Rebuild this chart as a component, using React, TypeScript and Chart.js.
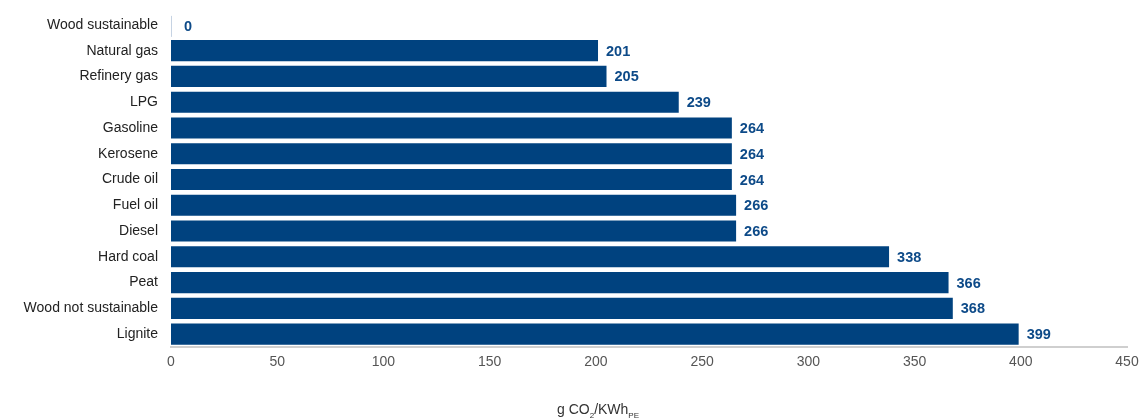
import React, { useEffect, useRef } from "react";
import { Chart, registerables } from "chart.js";

Chart.register(...registerables);

const categories = [
  "Wood sustainable",
  "Natural gas",
  "Refinery gas",
  "LPG",
  "Gasoline",
  "Kerosene",
  "Crude oil",
  "Fuel oil",
  "Diesel",
  "Hard coal",
  "Peat",
  "Wood not sustainable",
  "Lignite",
];
const values = [0, 201, 205, 239, 264, 264, 264, 266, 266, 338, 366, 368, 399];
const xTicks = [0, 50, 100, 150, 200, 250, 300, 350, 400, 450];

const BAR = "#00427f";
const LABEL = "#0d4a88";
const FONT = "'Liberation Sans', Arial, Helvetica, sans-serif";

const valueLabels = {
  id: "valueLabels",
  afterDatasetsDraw(chart: any) {
    const ctx = chart.ctx;
    const meta = chart.getDatasetMeta(0);
    ctx.save();
    ctx.font = `bold 14.5px ${FONT}`;
    ctx.fillStyle = LABEL;
    ctx.textAlign = "left";
    ctx.textBaseline = "middle";
    meta.data.forEach((bar: any, i: number) => {
      const v = values[i];
      if (v === 0) {
        ctx.save();
        ctx.strokeStyle = "#c6d3e3";
        ctx.lineWidth = 1;
        ctx.beginPath();
        ctx.moveTo(bar.x + 0.5, bar.y - 9);
        ctx.lineTo(bar.x + 0.5, bar.y + 12);
        ctx.stroke();
        ctx.restore();
        ctx.fillText(String(v), bar.x + 13, bar.y + 2);
      } else {
        ctx.fillText(String(v), bar.x + 8, bar.y + 1);
      }
    });
    ctx.restore();
  },
};

const axisTitle = {
  id: "axisTitle",
  afterDraw(chart: any) {
    const ctx = chart.ctx;
    ctx.save();
    ctx.fillStyle = "#333";
    ctx.textBaseline = "alphabetic";
    ctx.textAlign = "left";
    let x = 557;
    const y = 414;
    const parts: [string, boolean][] = [
      ["g CO", false],
      ["2", true],
      ["/KWh", false],
      ["PE", true],
    ];
    parts.forEach(([t, sub]) => {
      ctx.font = sub ? `8px ${FONT}` : `14px ${FONT}`;
      ctx.fillText(t, x, sub ? y + 4 : y);
      x += ctx.measureText(t).width;
    });
    ctx.restore();
  },
};

export default function App() {
  const ref = useRef<HTMLCanvasElement>(null);
  useEffect(() => {
    if (!ref.current) return;
    const chart = new Chart(ref.current, {
      type: "bar",
      data: {
        labels: categories,
        datasets: [
          {
            data: values,
            backgroundColor: BAR,
            borderWidth: 0,
            barPercentage: 0.82,
            categoryPercentage: 1,
          },
        ],
      },
      options: {
        indexAxis: "y",
        animation: false,
        responsive: false,
        maintainAspectRatio: false,
        layout: { padding: { top: 12, right: 21, left: 0, bottom: 0 } },
        plugins: {
          legend: { display: false },
          tooltip: { enabled: false },
        },
        scales: {
          x: {
            min: 0,
            max: 450,
            afterBuildTicks(axis: any) {
              axis.ticks = xTicks.map((v) => ({ value: v }));
            },
            afterFit(axis: any) {
              axis.height = 73;
            },
            grid: { display: false, drawTicks: false },
            border: { display: true, color: "#cfcfcf", width: 2 },
            ticks: {
              padding: 7,
              color: "#555",
              font: { family: FONT, size: 14 },
            },
          },
          y: {
            afterFit(axis: any) {
              axis.width = 171;
              axis.paddingTop = 0;
              axis.paddingBottom = 0;
            },
            grid: { display: false, drawTicks: false },
            border: { display: false },
            ticks: {
              padding: 13,
              color: "#222",
              font: { family: FONT, size: 14 },
              autoSkip: false,
            },
          },
        },
      },
      plugins: [valueLabels, axisTitle],
    });
    return () => chart.destroy();
  }, []);
  return (
    <div style={{ position: "fixed", left: 0, top: 0, width: 1148, height: 420 }}>
      <canvas ref={ref} width={1148} height={420} style={{ display: "block" }} />
    </div>
  );
}
